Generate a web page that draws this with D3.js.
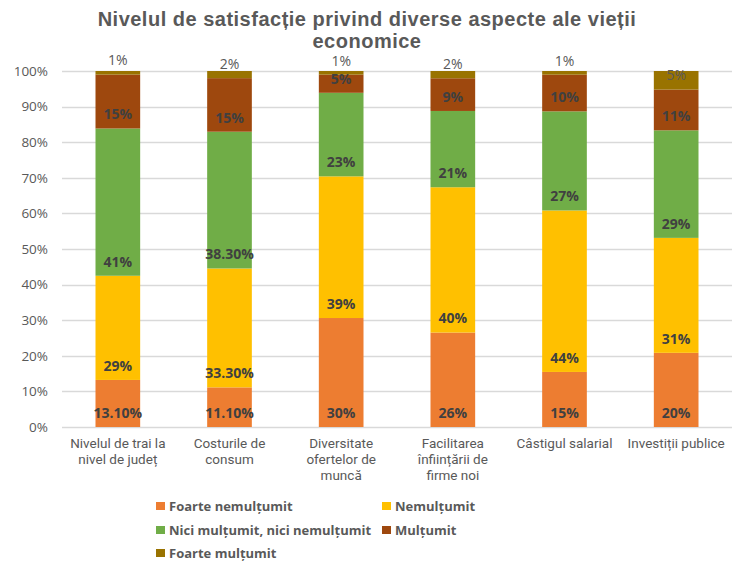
<!DOCTYPE html>
<html><head><meta charset="utf-8">
<script src="https://cdn.jsdelivr.net/npm/d3@7"></script>
<style>
html,body{margin:0;padding:0;background:#fff;}
svg{display:block;}
</style></head>
<body>
<svg id="chart" width="732" height="561"></svg>
<script>
const title = ["Nivelul de satisfacție privind diverse aspecte ale vieții", "economice"];
const categories = [
  ["Nivelul de trai la", "nivel de județ"],
  ["Costurile de", "consum"],
  ["Diversitate", "ofertelor de", "muncă"],
  ["Facilitarea", "înființării de", "firme noi"],
  ["Câstigul salarial"],
  ["Investiții publice"]
];
const seriesNames = ["Foarte nemulțumit", "Nemulțumit", "Nici mulțumit, nici nemulțumit", "Mulțumit", "Foarte mulțumit"];
const foarteNemultumit = [13.1, 11.1, 30, 26, 15, 20];
const nemultumit = [29, 33.3, 39, 40, 44, 31];
const niciNici = [41, 38.3, 23, 21, 27, 29];
const multumit = [15, 15, 5, 9, 10, 11];
const foarteMultumit = [1, 2, 1, 2, 1, 5];
const yTicks = [0, 0.1, 0.2, 0.3, 0.4, 0.5, 0.6, 0.7, 0.8, 0.9, 1];
const colors = ["#ED7D31", "#FFC000", "#70AD47", "#9E480E", "#997300"];

const seriesValues = [foarteNemultumit, nemultumit, niciNici, multumit, foarteMultumit];
const keys = seriesNames;
const rows = categories.map((c, i) => {
  const r = {idx: i};
  keys.forEach((k, j) => r[k] = seriesValues[j][i]);
  return r;
});

const OPEN = "'Open Sans', sans-serif";
const svg = d3.select("#chart");
const x = d3.scaleBand().domain(d3.range(categories.length)).range([62, 732]).paddingInner(0.6).paddingOuter(0.3);
const y = d3.scaleLinear().domain([0, 1]).range([427, 71]);

// title
svg.append("g").selectAll("text").data(title).join("text")
  .attr("x", 367).attr("y", (d, i) => 26 + i * 22)
  .attr("text-anchor", "middle")
  .style("font-family", "'Liberation Sans', Arial, sans-serif")
  .style("letter-spacing", "0.5px")
  .attr("font-size", 20).attr("font-weight", "bold").attr("fill", "#595959")
  .text(d => d);

// gridlines
svg.append("g").selectAll("line").data(yTicks).join("line")
  .attr("x1", 62).attr("x2", 732)
  .attr("y1", d => Math.round(y(d)) + 0.5).attr("y2", d => Math.round(y(d)) + 0.5)
  .attr("stroke", "#D9D9D9").attr("stroke-width", 1.3);

// y axis labels
const yAxis = d3.axisLeft(y).tickValues(yTicks).tickFormat(d3.format(".0%")).tickSize(0).tickPadding(0);
const ya = svg.append("g").attr("transform", "translate(48,0)").call(yAxis);
ya.select(".domain").remove();
ya.selectAll("text").attr("font-size", 13.5).attr("fill", "#595959").attr("font-family", OPEN);

// stacked bars
const stack = d3.stack().keys(keys).offset(d3.stackOffsetExpand);
const stacked = stack(rows);

const g = svg.append("g");
stacked.forEach((s, si) => {
  g.append("g").selectAll("rect").data(s).join("rect")
    .attr("x", (d, i) => x(i))
    .attr("width", x.bandwidth())
    .attr("y", d => y(d[1]))
    .attr("height", d => y(d[0]) - y(d[1]))
    .attr("fill", colors[si]);
});

// labels
const fmt = v => Number.isInteger(v) ? v + "%" : v.toFixed(2) + "%";
stacked.forEach((s, si) => {
  g.append("g").selectAll("text").data(s).join("text")
    .attr("x", (d, i) => x(i) + x.bandwidth() / 2)
    .attr("y", d => y(d[0]) - 14)
    .attr("dy", "0.35em")
    .attr("text-anchor", "middle")
    .attr("font-family", OPEN)
    .attr("font-size", 14)
    .attr("font-weight", si === 4 ? "normal" : "bold")
    .attr("fill", si === 4 ? "#595959" : "#404040")
    .text((d, i) => fmt(seriesValues[si][i]));
});

// x labels
const xl = svg.append("g");
categories.forEach((lines, i) => {
  xl.append("g").selectAll("text").data(lines).join("text")
    .attr("x", x(i) + x.bandwidth() / 2)
    .attr("y", (d, j) => 448 + j * 16)
    .attr("text-anchor", "middle")
    .attr("font-family", "Roboto, sans-serif")
    .attr("font-size", 13.5).attr("fill", "#595959")
    .text(d => d);
});

// legend
const legendPos = [[156, 506], [382, 506], [156, 530], [382, 530], [156, 553]];
const lg = svg.append("g");
seriesNames.forEach((n, i) => {
  const [lx, ly] = legendPos[i];
  lg.append("rect").attr("x", lx).attr("y", ly - 4).attr("width", 9).attr("height", 8).attr("fill", colors[i]);
  lg.append("text").attr("x", lx + 13).attr("y", ly).attr("dy", "0.35em")
    .attr("font-family", OPEN)
    .attr("font-size", 13).attr("font-weight", "bold").attr("fill", "#595959").text(n);
});
</script>
</body></html>
